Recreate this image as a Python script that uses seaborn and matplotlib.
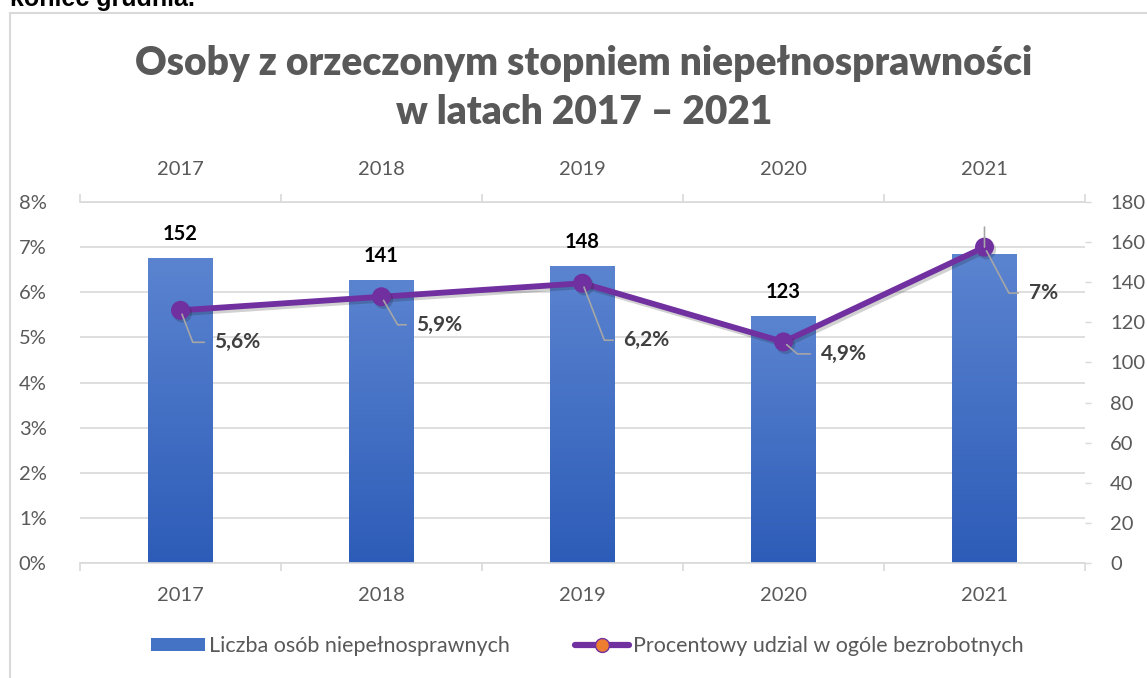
import numpy as np
import pandas as pd
import matplotlib
matplotlib.use("Agg")
import matplotlib.pyplot as plt
import matplotlib.patheffects as pe
import seaborn as sns
from matplotlib.colors import LinearSegmentedColormap
from matplotlib.lines import Line2D
from matplotlib.patches import Patch, Rectangle

# data
years = ["2017", "2018", "2019", "2020", "2021"]
persons = [152, 141, 148, 123, 154]
share_pct = [5.6, 5.9, 6.2, 4.9, 7.0]
share_labels = ["5,6%", "5,9%", "6,2%", "4,9%", "7%"]
pct_ticks = [0, 1, 2, 3, 4, 5, 6, 7, 8]
count_ticks = [0, 20, 40, 60, 80, 100, 120, 140, 160, 180]

title = "Osoby z orzeczonym stopniem niepełnosprawności\nw latach 2017 – 2021"
legend_labels = ["Liczba osób niepełnosprawnych",
                 "Procentowy udzial w ogóle bezrobotnych"]

sns.set_theme(style="white")
plt.rcParams["font.family"] = ["Lato", "DejaVu Sans"]

GREY_TXT = "#595959"
GRID = "#D9D9D9"
PURPLE = "#7030A0"

df = pd.DataFrame({"rok": years, "liczba": persons, "udzial": share_pct})

fig = plt.figure(figsize=(11.47, 6.78), dpi=100)
ax = fig.add_axes([80 / 1147, 1 - 563 / 678, 1005 / 1147, 361 / 678])

# bars (count scale, ticks on the right)
sns.barplot(data=df, x="rok", y="liczba", ax=ax, width=0.32,
            color="#4472C4", saturation=1, zorder=2)
cmap = LinearSegmentedColormap.from_list("bar", ["#2D5CB8", "#5B84D0"])
grad = np.linspace(0, 1, 256).reshape(-1, 1)
for bar in ax.patches:
    x0, w, h = bar.get_x(), bar.get_width(), bar.get_height()
    bar.set_facecolor("none")
    bar.set_edgecolor("none")
    ax.imshow(grad, extent=[x0, x0 + w, 0, h], origin="lower", aspect="auto",
              cmap=cmap, zorder=2)
ax.set_ylim(0, 180)
ax.set_xlim(-0.5, len(years) - 0.5)

top_labels = ax.bar_label(ax.containers[0], labels=[str(v) for v in persons],
                          padding=10, fontsize=14.5, fontweight="bold", color="black")
top_labels[-1].set_color("white")  # hidden in the original behind the top axis

# gridlines follow the percent axis
for t in pct_ticks:
    ax.axhline(t * 180 / 8, color=GRID, lw=1.2, zorder=0)

ax.set_xticks(range(len(years)))
ax.set_xticklabels(years)
ax.set_xticks(np.arange(-0.5, len(years), 1), minor=True)
ax.tick_params(axis="x", which="major", length=0, top=True, bottom=True,
               labeltop=True, labelbottom=True, pad=17, labelsize=14.5,
               labelcolor=GREY_TXT)
ax.tick_params(axis="x", which="minor", length=6, width=1.2, color=GRID,
               top=True, bottom=True, direction="out")
for side in ["left", "right"]:
    ax.spines[side].set_visible(False)
for side in ["top", "bottom"]:
    ax.spines[side].set_color(GRID)
    ax.spines[side].set_linewidth(1.2)
ax.set_xlabel("")
ax.set_ylabel("")

# line (percent scale, ticks on the left)
ax2 = ax.twinx()
sns.pointplot(data=df, x="rok", y="udzial", ax=ax2, color=PURPLE,
              markers="o", markersize=10.5, linewidth=4.2, errorbar=None)
for ln in ax2.lines:
    ln.set_path_effects([pe.SimpleLineShadow(offset=(1.5, -2), alpha=0.2),
                         pe.Normal()])
ax2.set_ylim(0, 8)
ax2.set_xlim(-0.5, len(years) - 0.5)
ax2.yaxis.tick_left()
ax2.set_yticks(pct_ticks)
ax2.set_yticklabels([f"{t}%" for t in pct_ticks])
ax2.tick_params(axis="y", left=False, right=False, pad=18, labelsize=14.5,
                labelcolor=GREY_TXT)
for s in ax2.spines.values():
    s.set_visible(False)
ax2.set_ylabel("")

# count axis goes to the right (after twinx, which resets it)
ax.yaxis.tick_right()
ax.set_yticks(count_ticks)
ax.tick_params(axis="y", left=False, right=True, labelleft=False, labelright=True,
               length=4, width=1, color=GRID, pad=14, labelsize=14.5,
               labelcolor=GREY_TXT)

# percent labels with leader lines (offsets in pixels, leader angle)
offsets = [(34, 32, -69), (35, 28, -60), (41, 57, -69), (37, 12, -41), (44, 46, -62)]
for i, (v, lbl) in enumerate(zip(share_pct, share_labels)):
    dx, dy, ang = offsets[i]
    ax2.annotate(lbl, xy=(i, v), xytext=(dx, -dy), textcoords="offset pixels",
                 ha="left", va="center", fontsize=15, fontweight="bold",
                 color="#404040",
                 arrowprops=dict(arrowstyle="-", color="#A6A6A6", lw=1.2,
                                 shrinkA=5, shrinkB=3, relpos=(0, 0.5),
                                 connectionstyle=f"angle,angleA=0,angleB={ang},rad=0"))
# short leader tail above the last point, as in the original
ax2.annotate("", xy=(len(years) - 1, share_pct[-1]), xytext=(0, 20),
             textcoords="offset pixels",
             arrowprops=dict(arrowstyle="-", color="#A6A6A6", lw=1.2,
                             shrinkA=0, shrinkB=0))

# title, cut caption and frame
fig.text(0.509, 1 - 88 / 678, title, ha="center", va="center", fontsize=28,
         fontweight="heavy", color=GREY_TXT, linespacing=1.4)
fig.text(10 / 1147, 1 - 6 / 678, "koniec grudnia.", ha="left", va="baseline",
         fontsize=18, fontweight="bold", color="black", family="Liberation Sans")
fig.add_artist(Rectangle((10 / 1147, -0.1), 1.2, 1.1 - 13 / 678,
                         transform=fig.transFigure, fill=False,
                         edgecolor=GRID, lw=1.5))

handles = [Patch(facecolor="#4472C4", edgecolor="none"),
           Line2D([], [], color=PURPLE, lw=4.5, marker="o", markersize=10,
                  markerfacecolor="#ED7D31", markeredgecolor=PURPLE)]
fig.legend(handles, legend_labels, loc="center", bbox_to_anchor=(0.512, 1 - 646 / 678),
           ncol=2, frameon=False, fontsize=15.5, labelcolor=GREY_TXT,
           handlelength=2.5, handleheight=0.55, handletextpad=0.2,
           columnspacing=3.0)

fig.savefig("out.png", dpi=100)
